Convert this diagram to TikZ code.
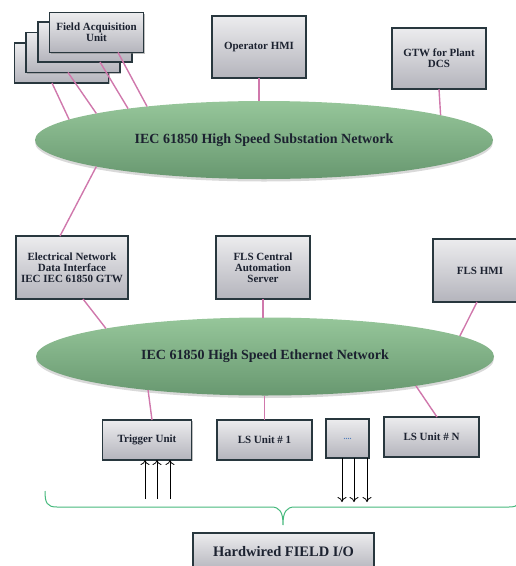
\documentclass[tikz,border=0pt]{standalone}
\usepackage{fontspec}
\setmainfont{Liberation Serif}
\usetikzlibrary{shapes.geometric,shadows,arrows.meta}

\definecolor{boxtop}{RGB}{236,236,238}
\definecolor{boxbot}{RGB}{180,180,188}
\definecolor{boxline}{RGB}{40,55,62}
\definecolor{nettop}{RGB}{150,198,154}
\definecolor{netbot}{RGB}{104,152,112}
\definecolor{linkpink}{RGB}{208,120,172}
\definecolor{bracegreen}{RGB}{70,185,125}
\definecolor{inktext}{RGB}{28,34,48}
\definecolor{dotblue}{RGB}{80,125,190}

\begin{document}
\begin{tikzpicture}[
    x=1pt, y=-1pt,
    unit/.style={
      draw=boxline,
      line width=1.5pt,
      top color=boxtop,
      bottom color=boxbot,
      drop shadow={shadow xshift=1.4pt, shadow yshift=-1.4pt, opacity=0.5},
      minimum width=94pt,
      minimum height=40pt,
      inner sep=1pt,
      outer sep=0pt,
      align=center,
      text=inktext,
      font=\fontsize{11}{11}\selectfont\bfseries
    },
    network/.style={
      ellipse,
      draw=none,
      top color=nettop,
      bottom color=netbot,
      drop shadow={shadow xshift=0pt, shadow yshift=-2.5pt, opacity=0.3},
      minimum width=458pt,
      minimum height=78pt,
      inner sep=0pt,
      outer sep=0pt,
      text=inktext,
      font=\fontsize{14}{16}\selectfont\bfseries
    },
    link/.style={
      linkpink,
      line width=1.4pt
    },
    signal/.style={
      -{To[length=5pt,width=9pt]},
      line width=0.8pt,
      black
    },
    bracket/.style={
      bracegreen,
      line width=1pt
    }
  ]

    \useasboundingbox (0,0) rectangle (516,566);

    % Field acquisition units, stacked back to front
    \foreach \n/\cx/\cy in {4/61.5/63, 3/73/52.5, 2/85/42}
      \node[unit] (fau\n) at (\cx,\cy) {};
    \node[unit, text depth=-2pt] (fau1) at (96.5,32.5) {Field Acquisition\\Unit};

    \node[unit, minimum height=62pt] (ophmi) at (259,47) {Operator HMI};
    \node[unit, minimum height=61pt] (gtwdcs) at (439,58.5) {GTW for Plant\\DCS};

    % Substation bus
    \node[network] (subnet) at (264,140) {IEC 61850 High Speed Substation Network};

    \node[unit, minimum width=112pt, minimum height=63pt] (endi) at (72,267.5)
      {Electrical Network\\Data Interface\\IEC IEC 61850 GTW};
    \node[unit, minimum height=63pt] (flscas) at (263,267.5) {FLS Central\\Automation\\Server};
    \node[unit, minimum height=63pt] (flshmi) at (480,270.5) {FLS HMI};

    % Ethernet bus
    \node[network] (ethnet) at (265,356.5) {IEC 61850 High Speed Ethernet Network};

    \node[unit, minimum width=89pt] (trig) at (147,440) {Trigger Unit};
    \node[unit, minimum width=95pt] (lsone) at (264.5,440) {LS Unit \# 1};
    \node[unit, minimum width=43pt, minimum height=39pt, text=dotblue,
      font=\footnotesize\bfseries] (dots) at (347.5,438.5) {....};
    \node[unit, minimum width=95pt] (lsn) at (431.5,437) {LS Unit \# N};

    \node[unit, minimum width=181pt, minimum height=38pt,
      font=\fontsize{14.5}{16}\selectfont\bfseries] (hwio) at (283.5,552) {Hardwired FIELD I/O};

    % Links to the substation bus
    \draw[link] ([xshift=-9.5pt]fau4.south) -- (subnet.174.1);
    \draw[link] ([xshift=-5pt]fau3.south) -- (subnet.171.6);
    \draw[link] ([xshift=15pt]fau2.south) -- (subnet.167.3);
    \draw[link] ([xshift=21.5pt]fau1.south) -- (subnet.164.2);
    \draw[link] (ophmi.south) -- (ophmi.south |- subnet.north);
    \draw[link] (gtwdcs.south) -- (subnet.8.3);
    \draw[link] ([xshift=-12pt]endi.north) -- (subnet.189.1);

    % Links to the ethernet bus
    \draw[link] ([xshift=11pt]endi.south) -- (ethnet.170.5);
    \draw[link] (flscas.south) -- (flscas.south |- ethnet.north);
    \draw[link] ([xshift=-3pt]flshmi.south) -- (ethnet.6.2);
    \draw[link] ([xshift=5pt]trig.north) -- (ethnet.196.5);
    \draw[link] (lsone.north) -- (lsone.north |- ethnet.south);
    \draw[link] ([xshift=5.5pt]lsn.north) -- (ethnet.349.4);

    % Hardwired signals in and out
    \coordinate (busup) at (0,499);
    \coordinate (busdown) at (0,502);
    \foreach \dx in {-2,10,23}
      \draw[signal] ([xshift=\dx pt]trig.south |- busup) -- ([xshift=\dx pt]trig.south);
    \foreach \dx in {-5.5,6.5,19.5}
      \draw[signal] ([xshift=\dx pt]dots.south) -- ([xshift=\dx pt]dots.south |- busdown);

    % Brace over the field I/O
    \draw[bracket] (45,491) .. controls (45,503) and (47,507) .. (57,507)
      -- (271,507) .. controls (280,507) and (283,512) .. (283,525)
      .. controls (283,512) and (286,507) .. (295,507)
      -- (509,507) .. controls (519,507) and (521,503) .. (521,491);

  \end{tikzpicture}
\end{document}
